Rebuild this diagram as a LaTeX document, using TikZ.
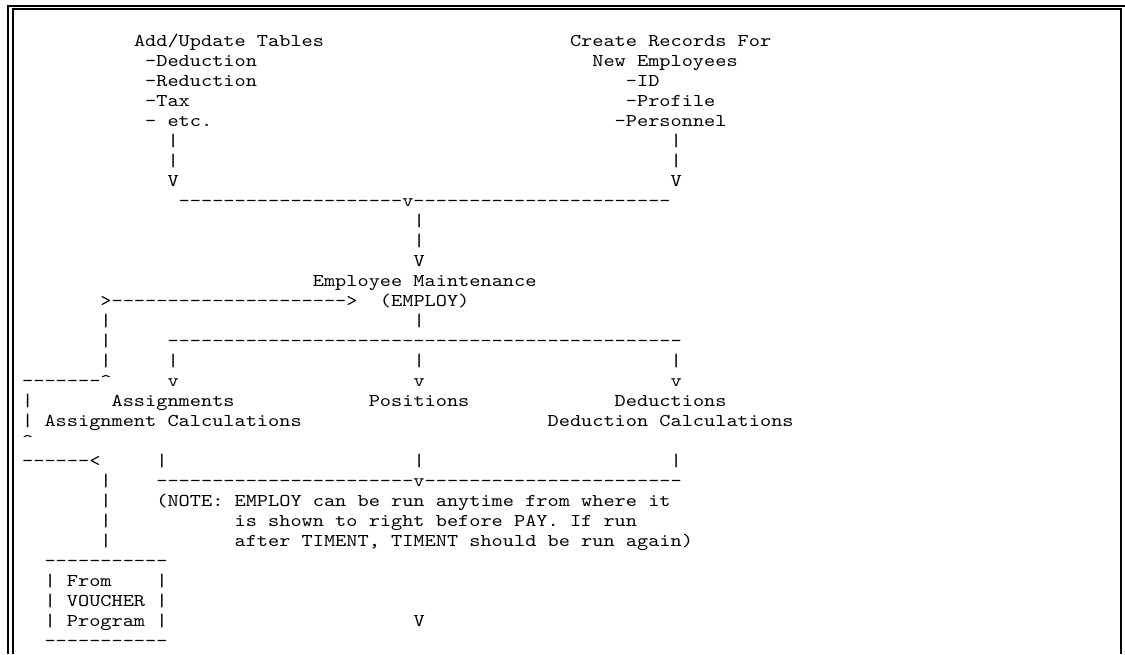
\documentclass[tikz,border=0pt]{standalone}
\usepackage{fontspec}
\newfontfamily\ascfont{lmmono10-regular.otf}[FakeStretch=1.183]
\usetikzlibrary{positioning}

\begin{document}
\begin{tikzpicture}[
    x=11.18pt, y=-20pt,
    asc/.style={font=\ascfont\fontsize{18pt}{20pt}\selectfont, inner sep=0pt, anchor=base west},
    frm/.style={line width=1.7pt},
  ]
  \useasboundingbox (0pt,0pt) rectangle (1125pt,-654pt);

  % frame, double on the left and top
  \draw[frm] (8.2pt,-654pt) |- (1125pt,-5.8pt);
  \draw[frm] (13.2pt,-654pt) |- (1121.2pt,-9.2pt) -- (1121.2pt,-654pt);

  \begin{scope}[shift={(22pt,-26.7pt)}]
    % inputs
    \node[asc] (tbl_hd) at (10,1) {Add/Update Tables};
    \node[asc] (tbl_ded) at (11,2) {-Deduction};
    \node[asc] (tbl_red) at (11,3) {-Reduction};
    \node[asc] (tbl_tax) at (11,4) {-Tax};
    \node[asc] (tbl_etc) at (11,5) {- etc.};
    \node[asc] (rec_hd) at (49,1) {Create Records For};
    \node[asc] (rec_new) at (51,2) {New Employees};
    \node[asc] (rec_id) at (54,3) {-ID};
    \node[asc] (rec_prof) at (54,4) {-Profile};
    \node[asc] (rec_pers) at (53,5) {-Personnel};

    \foreach \r in {6,7} {
      \node[asc] (tbl_bar\r) at (13,\r) {|};
      \node[asc] (rec_bar\r) at (58,\r) {|};
    }
    \node[asc] (tbl_tip) at (13,8) {V};
    \node[asc] (rec_tip) at (58,8) {V};
    \node[asc] (join_top) at (14,9) {--------------------v-----------------------};
    \node[asc] (emp_bar10) at (35,10) {|};
    \node[asc] (emp_bar11) at (35,11) {|};
    \node[asc] (emp_tip) at (35,12) {V};

    % employee maintenance
    \node[asc] (emp_hd) at (26,13) {Employee Maintenance};
    \node[asc] (emp_loop) at (7,14) {>--------------------->};
    \node[asc] (emp_prog) at (32,14) {(EMPLOY)};
    \node[asc] (emp_bar15) at (35,15) {|};
    \node[asc] (split) at (13,16) {----------------------------------------------};
    \foreach \c/\n in {13/a, 35/p, 58/d} {
      \node[asc] (split_bar_\n) at (\c,17) {|};
      \node[asc] (split_tip_\n) at (\c,18) {v};
    }

    % three branches
    \node[asc] (asg_hd) at (8,19) {Assignments};
    \node[asc] (asg_calc) at (2,20) {Assignment Calculations};
    \node[asc] (pos_hd) at (31,19) {Positions};
    \node[asc] (ded_hd) at (53,19) {Deductions};
    \node[asc] (ded_calc) at (47,20) {Deduction Calculations};
    \foreach \c/\n in {12/a, 35/p, 58/d} {
      \node[asc] (merge_bar_\n) at (\c,22) {|};
    }
    \node[asc] (merge) at (12,23) {-----------------------v-----------------------};

    % note
    \node[asc] (note1) at (12,24) {(NOTE: EMPLOY can be run anytime from where it};
    \node[asc] (note2) at (19,25) {is shown to right before PAY. If run};
    \node[asc] (note3) at (19,26) {after TIMENT, TIMENT should be run again)};
    \node[asc] (pay_tip) at (35,30) {V};

    % loop back from voucher
    \foreach \r in {15,16,17,23,24,25,26} {
      \node[asc] (loop_bar\r) at (7,\r) {|};
    }
    \node[asc] (loop_top) at (0,18) {-------\textasciicircum};
    \node[asc] (loop_bar19) at (0,19) {|};
    \node[asc] (loop_bar20) at (0,20) {|};
    \node[asc] (loop_tip) at (0,21) {\textasciicircum};
    \node[asc] (loop_bot) at (0,22) {------<};

    % voucher box
    \node[asc] (vch_top) at (2,27) {-----------};
    \foreach \r in {28,29,30} {
      \node[asc] (vch_l\r) at (2,\r) {|};
      \node[asc] (vch_r\r) at (12,\r) {|};
    }
    \node[asc] (vch_from) at (4,28) {From};
    \node[asc] (vch_name) at (4,29) {VOUCHER};
    \node[asc] (vch_prog) at (4,30) {Program};
    \node[asc] (vch_bot) at (2,31) {-----------};
  \end{scope}
\end{tikzpicture}
\end{document}
